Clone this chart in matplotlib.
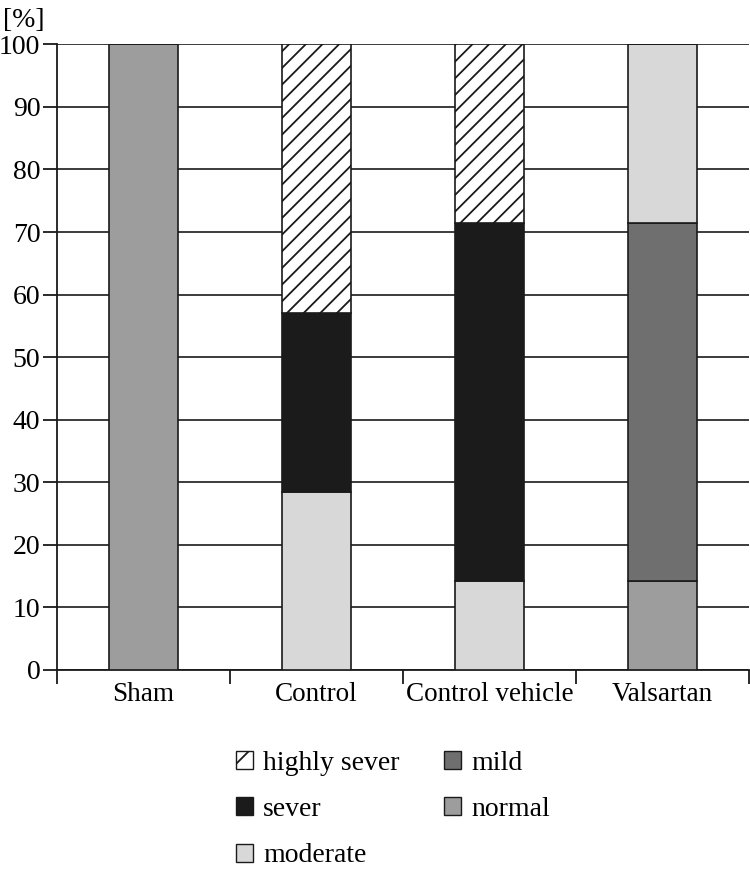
import numpy as np
import matplotlib.pyplot as plt
from matplotlib.patches import Patch

plt.rcParams['font.family'] = ['Liberation Serif', 'DejaVu Serif']
plt.rcParams['hatch.linewidth'] = 1.3

#### Data (percent of animals per grade)
groups = ['Sham', 'Control', 'Control vehicle', 'Valsartan']
normal = [100, 0, 0, 14.3]
mild = [0, 0, 0, 57.1]
moderate = [0, 28.5, 14.3, 28.6]
sever = [0, 28.6, 57.1, 0]
highly_sever = [0, 42.9, 28.6, 0]

# stacking order bottom -> top
series = [('normal', normal, '#9d9d9d', None),
          ('mild', mild, '#6f6f6f', None),
          ('moderate', moderate, '#d8d8d8', None),
          ('sever', sever, '#1b1b1b', None),
          ('highly sever', highly_sever, 'white', '//')]

fig = plt.figure(figsize=(7.5, 8.69), dpi=100)
ax = fig.add_axes([0.076, 0.229, 0.923, 0.72])

x = np.arange(len(groups))
bottom = np.zeros(len(groups))
for name, vals, col, hatch in series:
    vals = np.array(vals, dtype=float)
    ax.bar(x, vals, 0.4, bottom=bottom, color=col, edgecolor='#1a1a1a',
           linewidth=1.2, hatch=hatch, zorder=3)
    bottom += vals

ax.set_ylim(0, 100)
ax.set_xlim(-0.5, len(groups) - 0.5)
ax.set_yticks(np.arange(0, 101, 10))
ax.yaxis.grid(True, color='#1a1a1a', linewidth=1.2, zorder=0)
ax.set_axisbelow(True)

# category labels centred, ticks on the boundaries
ax.set_xticks(x)
ax.set_xticklabels(groups)
ax.tick_params(axis='x', length=0, labelsize=19.5, pad=9)
ax.set_xticks(np.arange(-0.5, len(groups)), minor=True)
ax.tick_params(axis='x', which='minor', length=10, width=1.3, color='#1a1a1a')
ax.tick_params(axis='y', length=10, width=1.3, labelsize=20, pad=2, color='#1a1a1a')

for s in ['top', 'right']:
    ax.spines[s].set_visible(False)
for s in ['left', 'bottom']:
    ax.spines[s].set_linewidth(1.3)
    ax.spines[s].set_color('#1a1a1a')

fig.text(0.004, 0.976, '[%]', fontsize=20, va='center')

handles = [Patch(facecolor='white', edgecolor='#1a1a1a', hatch='/', label='highly sever'),
           Patch(facecolor='#1b1b1b', edgecolor='#1a1a1a', label='sever'),
           Patch(facecolor='#d8d8d8', edgecolor='#1a1a1a', label='moderate'),
           Patch(facecolor='#6f6f6f', edgecolor='#1a1a1a', label='mild'),
           Patch(facecolor='#9d9d9d', edgecolor='#1a1a1a', label='normal')]
fig.legend(handles=handles, ncol=2, loc='upper center', bbox_to_anchor=(0.524, 0.165),
           frameon=False, fontsize=20, handlelength=0.62, handleheight=0.62,
           handletextpad=0.36, labelspacing=0.77, columnspacing=1.6)

plt.savefig('out.png', dpi=100)
